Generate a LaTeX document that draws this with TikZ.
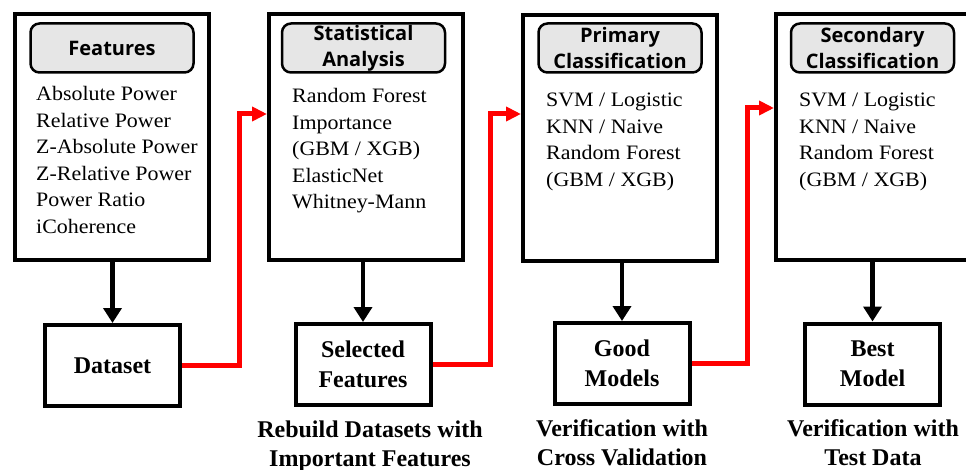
\documentclass[tikz,border=0pt]{standalone}
\usepackage{fontspec}
\setmainfont{Liberation Serif}
\newfontfamily\hdfont{Open Sans}
\newfontfamily\bodyfont[FakeStretch=1.07]{Liberation Serif}
\usetikzlibrary{arrows.meta}
\definecolor{hdgray}{RGB}{230,230,230}
\begin{document}
\begin{tikzpicture}[x=1pt,y=-1pt,
  bigbox/.style={draw, line width=4pt, minimum width=194pt, minimum height=246pt, inner sep=0pt},
  hdbox/.style={draw, line width=2.5pt, rounded corners=9pt, fill=hdgray, minimum width=163pt, minimum height=49pt, inner sep=0pt, align=center, font=\hdfont\bfseries\fontsize{20}{26}\selectfont},
  listtxt/.style={anchor=north west, inner sep=0pt, align=left, font=\bodyfont\fontsize{20.5}{26.6}\selectfont},
  smallbox/.style={draw, line width=4pt, minimum width=135pt, minimum height=81pt, inner sep=0pt, align=center, font=\bfseries\fontsize{24}{30}\selectfont},
  captxt/.style={inner sep=0pt, align=center, font=\bfseries\fontsize{24}{28.5}\selectfont},
  blk/.style={line width=4.5pt, -{Triangle[length=15pt,width=18pt]}},
  redarr/.style={draw=red, line width=5pt, -{Triangle[length=15pt,width=14pt]}}
]
\useasboundingbox (0,0) rectangle (966,470);
\clip (0,0) rectangle (966,470);

% big boxes
\node[bigbox] (f) at (112,137) {};
\node[bigbox] (sa) at (366,137) {};
\node[bigbox] (pc) at (620,138) {};
\node[bigbox] (sc) at (873,137) {};

% headers
\node[hdbox] (fh) at (112,48) {Features};
\node[hdbox] (sah) at (363.5,48) {Statistical\\Analysis};
\node[hdbox] (pch) at (620,48) {Primary\\Classification};
\node[hdbox] (sch) at (872.5,48) {Secondary\\Classification};

% lists
\node[listtxt] (fl) at (36,86) {Absolute Power\\Relative Power\\Z-Absolute Power\\Z-Relative Power\\Power Ratio\\iCoherence};
\node[listtxt] (sal) at (292,88) {Random Forest\\Importance\\(GBM / XGB)\\ElasticNet\\Whitney-Mann};
\node[listtxt] (pcl) at (546,93) {SVM / Logistic\\KNN / Naive\\Random Forest\\(GBM / XGB)};
\node[listtxt] (scl) at (799,93) {SVM / Logistic\\KNN / Naive\\Random Forest\\(GBM / XGB)};

% bottom boxes
\node[smallbox] (ds) at (112.5,365.5) {Dataset};
\node[smallbox] (sf) at (363,364.5) {Selected\\Features};
\node[smallbox] (gm) at (622,363.5) {Good\\Models};
\node[smallbox] (bm) at (872.5,364) {Best\\Model};

% captions
\node[captxt] (c2) at (370,446) {Rebuild Datasets with\\Important Features};
\node[captxt] (c3) at (622,442.5) {Verification with\\Cross Validation};
\node[captxt] (c4) at (873,442.5) {Verification with\\Test Data};

% black arrows
\draw[blk] (ds.north |- f.south) -- (ds.north);
\draw[blk] (sf.north |- sa.south) -- (sf.north);
\draw[blk] (gm.north |- pc.south) -- (gm.north);
\draw[blk] (bm.north |- sc.south) -- (bm.north);

% red connectors
\coordinate (r1) at (239,114);
\coordinate (r2) at (490,114);
\coordinate (r3) at (747,108);
\draw[redarr] (ds.east) -| (r1) -- (r1 -| sa.west);
\draw[redarr] (sf.east) -| (r2) -- (r2 -| pc.west);
\draw[redarr] (gm.east) -| (r3) -- (r3 -| sc.west);
\end{tikzpicture}
\end{document}
